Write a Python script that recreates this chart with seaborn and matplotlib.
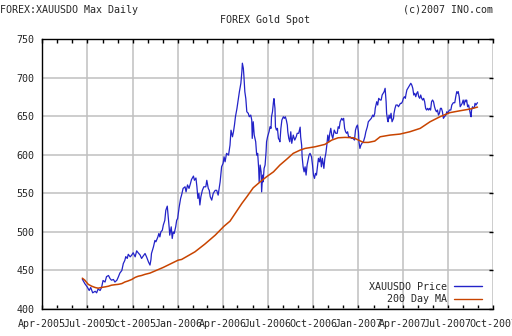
import matplotlib
matplotlib.use('Agg')
import matplotlib.pyplot as plt
import matplotlib.dates as mdates
import seaborn as sns
import pandas as pd

# ---- data ----
start_date = '2005-04-01'          # days below are counted from this date
x_start, x_end = '2005-04-01', '2007-10-01'

price_day = [
    81, 86, 91, 95, 98, 102, 107, 110, 113, 117,
    120, 123, 127, 130, 134, 137, 140, 144, 147, 151,
    154, 157, 161, 164, 167, 169, 172, 174, 178, 181,
    184, 188, 191, 194, 198, 201, 204, 208, 211, 215,
    218, 220, 221, 225, 228, 230, 234, 236, 238, 240,
    243, 245, 248, 250, 253, 255, 257, 258, 261, 263,
    265, 267, 270, 272, 274, 277, 280, 282, 285, 289,
    291, 294, 297, 300, 302, 306, 308, 311, 313, 315,
    317, 319, 321, 324, 327, 331, 333, 336, 338, 340,
    343, 346, 350, 353, 356, 360, 363, 366, 368, 370,
    373, 377, 380, 382, 385, 387, 389, 391, 394, 397,
    399, 402, 404, 405, 407, 408, 410, 412, 414, 417,
    419, 422, 424, 425, 427, 429, 432, 434, 436, 438,
    439, 441, 443, 444, 446, 447, 449, 451, 453, 454,
    456, 459, 461, 463, 464, 466, 468, 469, 471, 472,
    474, 476, 478, 480, 481, 483, 485, 488, 490, 492,
    494, 496, 497, 499, 501, 503, 505, 508, 511, 514,
    516, 519, 522, 523, 525, 526, 528, 530, 532, 534,
    536, 538, 540, 542, 545, 547, 549, 551, 553, 555,
    557, 559, 561, 563, 565, 567, 570, 572, 574, 576,
    578, 580, 582, 584, 586, 588, 591, 594, 597, 599,
    601, 603, 606, 608, 610, 612, 614, 616, 618, 620,
    623, 626, 629, 632, 634, 636, 638, 640, 641, 643,
    645, 647, 650, 653, 655, 658, 660, 663, 666, 669,
    671, 673, 674, 677, 679, 681, 684, 686, 688, 690,
    692, 694, 696, 697, 699, 700, 702, 704, 706, 708,
    711, 712, 714, 716, 719, 721, 723, 725, 727, 729,
    731, 733, 735, 736, 738, 740, 742, 744, 746, 748,
    750, 752, 754, 756, 758, 760, 762, 764, 766, 768,
    770, 772, 774, 776, 778, 780, 782, 784, 786, 788,
    790, 792, 794, 796, 798, 800, 802, 804, 806, 808,
    810, 812, 814, 817, 819, 821, 824, 827, 829, 832,
    835, 837, 839, 841, 842, 844, 846, 848, 850, 852,
    854, 856, 858, 859, 861, 863, 865, 867, 868, 869,
    871, 873, 875, 876, 878, 880, 881,
]
price = [
    438.7, 433, 428.6, 424, 427.9, 421, 423, 421, 426, 424,
    428, 437, 435, 442, 443.5, 439.6, 437.4, 438.3, 435, 437.4,
    441.7, 446.6, 450, 459, 463, 468, 465.6, 471, 467.7, 470,
    473, 467.7, 475.5, 473, 470, 465.6, 468.5, 472, 467.7, 461,
    457, 464.3, 472, 480.6, 489, 487.2, 493.6, 498, 493.6, 500,
    502.3, 509, 515, 528, 533.5, 519.6, 504.5, 495.8, 506.6, 491.5,
    500, 498, 506.6, 515, 517.5, 532, 543.5, 548, 556.5, 558.6,
    552, 561, 556.5, 563, 568, 572.5, 567, 570, 558.6, 543.5,
    550, 535, 545.6, 554, 558.6, 558.6, 567, 556.5, 554, 545.6,
    541.3, 550, 554, 554, 547.8, 565, 584.6, 589, 597.5, 591,
    602, 599.7, 612.7, 632, 623.5, 630, 638.7, 649.5, 660, 673,
    682, 693, 708, 719, 712.3, 703.6, 682, 673, 656, 653.9,
    649.5, 651.7, 645.2, 621.4, 643, 625.7, 617, 599.7, 602, 582.5,
    565, 586.8, 578, 552, 573.8, 565, 582.5, 586.8, 604, 617,
    623.5, 630, 636.5, 634.4, 649.5, 656, 669, 673, 660.4, 636.5,
    632.2, 634.4, 621.4, 619.2, 617, 634.4, 645.2, 649.5, 647.4, 649.5,
    645.2, 638.7, 630, 621.4, 617, 630, 615, 625.7, 619.2, 623.5,
    628, 628, 636, 623.5, 612.7, 597.5, 584.5, 578, 584.5, 573.8,
    586.8, 593.3, 599.7, 602, 597.5, 586.8, 573.8, 569.5, 576, 573.8,
    584.5, 595.5, 591, 597.5, 584.5, 595.5, 582.5, 595.5, 602, 612.7,
    625.7, 617, 628, 634.5, 625.7, 621.4, 632.2, 628, 628, 636.5,
    634.4, 643, 647.4, 645.2, 647.4, 634.4, 630, 628, 630, 623.5,
    623.5, 621.4, 621.4, 619.2, 632.2, 636.5, 638.7, 630, 617, 608.4,
    612.7, 615, 617, 623.5, 630, 636.5, 643, 645.2, 647.4, 651.7,
    649.5, 654, 660.4, 669, 664.7, 673.4, 671.2, 671.2, 677.7, 679.9,
    682, 686.4, 669, 654, 645.2, 643, 651.7, 647.4, 654, 643,
    647.4, 654, 660.4, 664.7, 664.7, 662.5, 664.7, 666.9, 666.9, 669,
    673.4, 675.5, 673.4, 677.7, 684.2, 686.4, 688.5, 690.6, 692.9, 690.6,
    686.4, 677.7, 679.9, 675.5, 679.9, 682, 675.5, 673.4, 677.7, 673.4,
    671.2, 673.4, 669, 660.4, 658.2, 660.4, 658.2, 660.4, 658.2, 669,
    671.2, 669, 662.5, 658.2, 656, 658.2, 651.7, 654, 660.4, 660.4,
    656, 647.4, 649.5, 651.7, 656, 654, 658.2, 658.2, 664.7, 667.7,
    667.7, 675.5, 682, 679.9, 682, 675.5, 662.5, 664.7, 666.9, 671.2,
    664.7, 671.2, 669, 671.2, 662.5, 664.7, 658.2, 651.7, 649.5, 658.2,
    662.5, 660.4, 662.5, 666.9, 664.7, 666.9, 667.7,
]

ma_day = [
    81, 86, 93, 100, 107, 113, 120, 127, 134, 140,
    147, 154, 161, 167, 174, 181, 188, 194, 201, 208,
    218, 245, 275, 282, 309, 329, 350, 368, 380, 404,
    414, 427, 441, 454, 468, 481, 495, 508, 522, 532,
    552, 572, 586, 599, 613, 630, 640, 650, 660, 673,
    684, 704, 724, 744, 765, 785, 805, 825, 846, 866,
    881,
]
ma_value = [
    440, 437.4, 432, 429.6, 427.9, 427, 428, 428.7, 429.6, 430.9,
    431.5, 432, 433, 435, 436.5, 438.3, 441, 442.5, 443.5, 445,
    446.6, 454, 463.4, 464.3, 474.2, 484.2, 495.8, 507.5, 514, 537,
    545.6, 557.3, 565, 571.6, 578, 586.8, 594.5, 602, 606.2, 608.4,
    610.5, 613.6, 619.2, 622.2, 622.7, 622.2, 619.2, 616.2, 616.2, 617.9,
    623.5, 625.7, 627, 630, 634.4, 643, 649.5, 654.8, 657.3, 659.5,
    662,
]

series_names = ['XAUUSDO Price', '200 Day MA']
y_ticks = [400, 450, 500, 550, 600, 650, 700, 750]
header_left = 'FOREX:XAUUSDO Max Daily'
header_right = '(c)2007 INO.com'
title = 'FOREX Gold Spot'

# ---- style ----
sns.set_style('white')
plt.rcParams['font.family'] = ['DejaVu Sans Mono']
plt.rcParams['font.size'] = 7.2

W, H = 512, 336
fig = plt.figure(figsize=(W / 100, H / 100), dpi=100)
L, R, T, B = 42.3, 493.3, 39.3, 309.0
ax = fig.add_axes([L / W, 1 - B / H, (R - L) / W, (B - T) / H])

t0 = pd.Timestamp(start_date)
df_price = pd.DataFrame({'date': t0 + pd.to_timedelta(price_day, unit='D'), 'value': price})
df_ma = pd.DataFrame({'date': t0 + pd.to_timedelta(ma_day, unit='D'), 'value': ma_value})

sns.lineplot(data=df_price, x='date', y='value', ax=ax, color='#2323C8',
             lw=0.9, label=series_names[0], estimator=None)
sns.lineplot(data=df_ma, x='date', y='value', ax=ax, color='#C84400',
             lw=1.1, label=series_names[1], estimator=None)

ax.set_xlim(pd.Timestamp(x_start), pd.Timestamp(x_end))
ax.set_ylim(y_ticks[0], y_ticks[-1])
ax.set_yticks(y_ticks)
ax.xaxis.set_major_locator(mdates.MonthLocator(bymonth=[1, 4, 7, 10]))
ax.xaxis.set_minor_locator(mdates.MonthLocator())
ax.xaxis.set_major_formatter(mdates.DateFormatter('%b-%Y'))
ax.set_xlabel('')
ax.set_ylabel('')

ax.grid(True, which='major', color='#C0C0C0', lw=1.1)
ax.set_axisbelow(True)
for s in ['left', 'top', 'bottom']:
    ax.spines[s].set_color('black')
    ax.spines[s].set_linewidth(1.0)
    ax.spines[s].set_visible(True)
ax.spines['right'].set_visible(False)

ax.tick_params(axis='x', which='both', direction='in', top=True, bottom=True,
               length=3, width=1, color='black', pad=7, labelsize=7.2)
ax.tick_params(axis='y', which='both', direction='in', left=False, right=True,
               length=3, width=1, color='black', pad=5.5, labelsize=7.2)

leg = ax.legend(loc='lower right', bbox_to_anchor=(1 - 11.6 / (R - L), 5 / (B - T)),
                markerfirst=False, frameon=False, handlelength=2.8, handletextpad=0.7,
                labelspacing=0.25, borderpad=0, borderaxespad=0, fontsize=7.2)
for line in leg.get_lines():
    line.set_linewidth(1.0)

fig.text(0, 1 - 10 / H, header_left, ha='left', va='center', fontsize=7.2)
fig.text(492.7 / W, 1 - 10 / H, header_right, ha='right', va='center', fontsize=7.2)
fig.text(265 / W, 1 - 20 / H, title, ha='center', va='center', fontsize=7.2)

fig.savefig('out.png', dpi=100)
